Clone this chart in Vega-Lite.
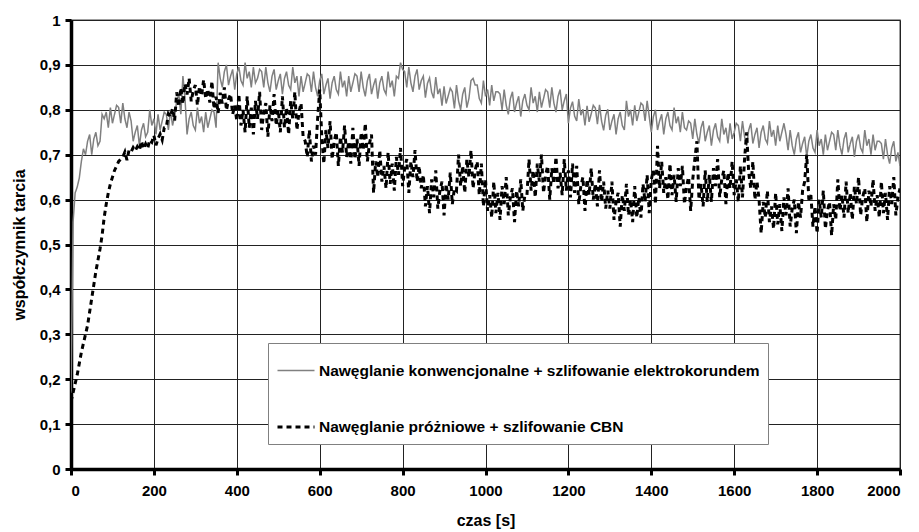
{
"$schema":"https://vega.github.io/schema/vega-lite/v6.json",
"width":829,"height":449,
"autosize":{"type":"none"},
"padding":{"left":71,"top":20,"right":19,"bottom":63},
"background":"white",
"config":{"view":{"stroke":"#808080","strokeWidth":1.5},"font":"Liberation Sans"},
"data":{"values":[
{"t":0,"g":0.17,"k":0.15},{"t":5,"g":0.55,"k":0.17},{"t":10,"g":0.615,"k":0.19},{"t":15,"g":0.628,"k":0.21},{"t":20,"g":0.648,"k":0.235},{"t":25,"g":0.685,"k":0.26},{"t":30,"g":0.713,"k":0.28},{"t":35,"g":0.7,"k":0.3},{"t":40,"g":0.73,"k":0.32},{"t":45,"g":0.745,"k":0.35},
{"t":50,"g":0.7,"k":0.38},{"t":55,"g":0.735,"k":0.41},{"t":60,"g":0.75,"k":0.44},{"t":65,"g":0.72,"k":0.465},{"t":70,"g":0.73,"k":0.49},{"t":75,"g":0.79,"k":0.52},{"t":80,"g":0.78,"k":0.56},{"t":85,"g":0.795,"k":0.59},{"t":90,"g":0.76,"k":0.615},{"t":95,"g":0.805,"k":0.635},
{"t":100,"g":0.77,"k":0.65},{"t":105,"g":0.79,"k":0.665},{"t":110,"g":0.81,"k":0.675},{"t":115,"g":0.805,"k":0.685},{"t":120,"g":0.77,"k":0.69},{"t":125,"g":0.815,"k":0.695},{"t":130,"g":0.78,"k":0.706},{"t":135,"g":0.76,"k":0.688},{"t":140,"g":0.795,"k":0.71},{"t":145,"g":0.775,"k":0.706},
{"t":150,"g":0.73,"k":0.716},{"t":155,"g":0.75,"k":0.709},{"t":160,"g":0.765,"k":0.718},{"t":165,"g":0.72,"k":0.71},{"t":170,"g":0.755,"k":0.73},{"t":175,"g":0.77,"k":0.713},{"t":180,"g":0.74,"k":0.724},{"t":185,"g":0.75,"k":0.714},{"t":190,"g":0.8,"k":0.733},{"t":195,"g":0.765,"k":0.728},
{"t":200,"g":0.78,"k":0.743},{"t":205,"g":0.745,"k":0.721},{"t":210,"g":0.79,"k":0.736},{"t":215,"g":0.755,"k":0.746},{"t":220,"g":0.775,"k":0.733},{"t":225,"g":0.795,"k":0.76},{"t":230,"g":0.79,"k":0.761},{"t":235,"g":0.755,"k":0.791},{"t":240,"g":0.8,"k":0.784},{"t":245,"g":0.765,"k":0.803},
{"t":250,"g":0.785,"k":0.776},{"t":255,"g":0.82,"k":0.839},{"t":260,"g":0.835,"k":0.807},{"t":265,"g":0.79,"k":0.849},{"t":270,"g":0.875,"k":0.813},{"t":275,"g":0.825,"k":0.858},{"t":280,"g":0.745,"k":0.834},{"t":285,"g":0.78,"k":0.87},{"t":290,"g":0.795,"k":0.819},{"t":295,"g":0.765,"k":0.843},
{"t":300,"g":0.755,"k":0.855},{"t":305,"g":0.805,"k":0.81},{"t":310,"g":0.77,"k":0.852},{"t":315,"g":0.785,"k":0.831},{"t":320,"g":0.75,"k":0.867},{"t":325,"g":0.795,"k":0.825},{"t":330,"g":0.76,"k":0.846},{"t":335,"g":0.78,"k":0.816},{"t":340,"g":0.8,"k":0.864},{"t":345,"g":0.795,"k":0.802},
{"t":350,"g":0.76,"k":0.829},{"t":355,"g":0.905,"k":0.793},{"t":360,"g":0.87,"k":0.838},{"t":365,"g":0.85,"k":0.814},{"t":370,"g":0.885,"k":0.85},{"t":375,"g":0.9,"k":0.799},{"t":380,"g":0.855,"k":0.823},{"t":385,"g":0.875,"k":0.835},{"t":390,"g":0.89,"k":0.79},{"t":395,"g":0.845,"k":0.81},
{"t":400,"g":0.88,"k":0.775},{"t":405,"g":0.895,"k":0.835},{"t":410,"g":0.865,"k":0.765},{"t":415,"g":0.855,"k":0.8},{"t":420,"g":0.905,"k":0.75},{"t":425,"g":0.87,"k":0.83},{"t":430,"g":0.885,"k":0.76},{"t":435,"g":0.85,"k":0.805},{"t":440,"g":0.895,"k":0.745},{"t":445,"g":0.86,"k":0.82},
{"t":450,"g":0.87,"k":0.78},{"t":455,"g":0.89,"k":0.84},{"t":460,"g":0.885,"k":0.755},{"t":465,"g":0.85,"k":0.795},{"t":470,"g":0.895,"k":0.815},{"t":475,"g":0.86,"k":0.74},{"t":480,"g":0.84,"k":0.81},{"t":485,"g":0.875,"k":0.775},{"t":490,"g":0.89,"k":0.835},{"t":495,"g":0.845,"k":0.765},
{"t":500,"g":0.865,"k":0.8},{"t":505,"g":0.88,"k":0.75},{"t":510,"g":0.835,"k":0.83},{"t":515,"g":0.87,"k":0.76},{"t":520,"g":0.885,"k":0.805},{"t":525,"g":0.855,"k":0.745},{"t":530,"g":0.845,"k":0.82},{"t":535,"g":0.895,"k":0.78},{"t":540,"g":0.86,"k":0.84},{"t":545,"g":0.875,"k":0.755},
{"t":550,"g":0.83,"k":0.795},{"t":555,"g":0.875,"k":0.815},{"t":560,"g":0.84,"k":0.74},{"t":565,"g":0.86,"k":0.73},{"t":570,"g":0.88,"k":0.695},{"t":575,"g":0.875,"k":0.755},{"t":580,"g":0.84,"k":0.685},{"t":585,"g":0.885,"k":0.72},{"t":590,"g":0.85,"k":0.7},{"t":595,"g":0.83,"k":0.78},
{"t":600,"g":0.865,"k":0.845},{"t":605,"g":0.88,"k":0.74},{"t":610,"g":0.835,"k":0.68},{"t":615,"g":0.855,"k":0.755},{"t":620,"g":0.87,"k":0.715},{"t":625,"g":0.825,"k":0.775},{"t":630,"g":0.86,"k":0.69},{"t":635,"g":0.875,"k":0.73},{"t":640,"g":0.845,"k":0.75},{"t":645,"g":0.835,"k":0.675},
{"t":650,"g":0.885,"k":0.74},{"t":655,"g":0.85,"k":0.705},{"t":660,"g":0.865,"k":0.765},{"t":665,"g":0.83,"k":0.695},{"t":670,"g":0.875,"k":0.73},{"t":675,"g":0.84,"k":0.68},{"t":680,"g":0.86,"k":0.76},{"t":685,"g":0.88,"k":0.69},{"t":690,"g":0.875,"k":0.735},{"t":695,"g":0.84,"k":0.675},
{"t":700,"g":0.885,"k":0.75},{"t":705,"g":0.85,"k":0.71},{"t":710,"g":0.83,"k":0.77},{"t":715,"g":0.865,"k":0.685},{"t":720,"g":0.88,"k":0.725},{"t":725,"g":0.835,"k":0.745},{"t":730,"g":0.855,"k":0.615},{"t":735,"g":0.87,"k":0.685},{"t":740,"g":0.825,"k":0.65},{"t":745,"g":0.86,"k":0.71},
{"t":750,"g":0.875,"k":0.64},{"t":755,"g":0.845,"k":0.675},{"t":760,"g":0.835,"k":0.625},{"t":765,"g":0.885,"k":0.705},{"t":770,"g":0.85,"k":0.635},{"t":775,"g":0.865,"k":0.68},{"t":780,"g":0.83,"k":0.62},{"t":785,"g":0.875,"k":0.695},{"t":790,"g":0.87,"k":0.655},{"t":795,"g":0.905,"k":0.715},
{"t":800,"g":0.89,"k":0.63},{"t":805,"g":0.885,"k":0.67},{"t":810,"g":0.85,"k":0.69},{"t":815,"g":0.895,"k":0.615},{"t":820,"g":0.86,"k":0.685},{"t":825,"g":0.84,"k":0.65},{"t":830,"g":0.875,"k":0.71},{"t":835,"g":0.89,"k":0.64},{"t":840,"g":0.845,"k":0.675},{"t":845,"g":0.865,"k":0.625},
{"t":850,"g":0.875,"k":0.655},{"t":855,"g":0.827,"k":0.585},{"t":860,"g":0.859,"k":0.63},{"t":865,"g":0.871,"k":0.57},{"t":870,"g":0.839,"k":0.645},{"t":875,"g":0.826,"k":0.605},{"t":880,"g":0.873,"k":0.665},{"t":885,"g":0.835,"k":0.58},{"t":890,"g":0.847,"k":0.62},{"t":895,"g":0.809,"k":0.64},
{"t":900,"g":0.852,"k":0.565},{"t":905,"g":0.814,"k":0.635},{"t":910,"g":0.831,"k":0.6},{"t":915,"g":0.848,"k":0.66},{"t":920,"g":0.84,"k":0.59},{"t":925,"g":0.803,"k":0.625},{"t":930,"g":0.855,"k":0.62},{"t":935,"g":0.82,"k":0.7},{"t":940,"g":0.8,"k":0.63},{"t":945,"g":0.835,"k":0.675},
{"t":950,"g":0.85,"k":0.615},{"t":955,"g":0.805,"k":0.69},{"t":960,"g":0.825,"k":0.65},{"t":965,"g":0.865,"k":0.71},{"t":970,"g":0.87,"k":0.625},{"t":975,"g":0.855,"k":0.665},{"t":980,"g":0.855,"k":0.685},{"t":985,"g":0.825,"k":0.61},{"t":990,"g":0.815,"k":0.68},{"t":995,"g":0.865,"k":0.585},
{"t":1000,"g":0.83,"k":0.645},{"t":1005,"g":0.845,"k":0.575},{"t":1010,"g":0.81,"k":0.61},{"t":1015,"g":0.855,"k":0.56},{"t":1020,"g":0.82,"k":0.64},{"t":1025,"g":0.84,"k":0.57},{"t":1030,"g":0.84,"k":0.615},{"t":1035,"g":0.835,"k":0.555},{"t":1040,"g":0.8,"k":0.63},{"t":1045,"g":0.845,"k":0.59},
{"t":1050,"g":0.81,"k":0.65},{"t":1055,"g":0.79,"k":0.565},{"t":1060,"g":0.825,"k":0.605},{"t":1065,"g":0.84,"k":0.625},{"t":1070,"g":0.795,"k":0.55},{"t":1075,"g":0.815,"k":0.62},{"t":1080,"g":0.83,"k":0.585},{"t":1085,"g":0.785,"k":0.645},{"t":1090,"g":0.82,"k":0.575},{"t":1095,"g":0.835,"k":0.61},
{"t":1100,"g":0.81,"k":0.61},{"t":1105,"g":0.8,"k":0.69},{"t":1110,"g":0.85,"k":0.62},{"t":1115,"g":0.815,"k":0.665},{"t":1120,"g":0.83,"k":0.605},{"t":1125,"g":0.795,"k":0.68},{"t":1130,"g":0.84,"k":0.64},{"t":1135,"g":0.805,"k":0.7},{"t":1140,"g":0.825,"k":0.615},{"t":1145,"g":0.845,"k":0.655},
{"t":1150,"g":0.84,"k":0.675},{"t":1155,"g":0.805,"k":0.6},{"t":1160,"g":0.85,"k":0.67},{"t":1165,"g":0.815,"k":0.635},{"t":1170,"g":0.795,"k":0.695},{"t":1175,"g":0.83,"k":0.625},{"t":1180,"g":0.845,"k":0.66},{"t":1185,"g":0.8,"k":0.61},{"t":1190,"g":0.82,"k":0.69},{"t":1195,"g":0.835,"k":0.62},
{"t":1200,"g":0.77,"k":0.665},{"t":1205,"g":0.804,"k":0.605},{"t":1210,"g":0.818,"k":0.68},{"t":1215,"g":0.786,"k":0.615},{"t":1220,"g":0.775,"k":0.675},{"t":1225,"g":0.824,"k":0.59},{"t":1230,"g":0.788,"k":0.63},{"t":1235,"g":0.801,"k":0.65},{"t":1240,"g":0.765,"k":0.575},{"t":1245,"g":0.809,"k":0.645},
{"t":1250,"g":0.773,"k":0.61},{"t":1255,"g":0.791,"k":0.67},{"t":1260,"g":0.81,"k":0.6},{"t":1265,"g":0.804,"k":0.635},{"t":1270,"g":0.768,"k":0.585},{"t":1275,"g":0.811,"k":0.665},{"t":1280,"g":0.775,"k":0.595},{"t":1285,"g":0.754,"k":0.64},{"t":1290,"g":0.788,"k":0.58},{"t":1295,"g":0.801,"k":0.62},
{"t":1300,"g":0.755,"k":0.58},{"t":1305,"g":0.775,"k":0.64},{"t":1310,"g":0.79,"k":0.555},{"t":1315,"g":0.745,"k":0.595},{"t":1320,"g":0.78,"k":0.615},{"t":1325,"g":0.795,"k":0.54},{"t":1330,"g":0.765,"k":0.61},{"t":1335,"g":0.755,"k":0.575},{"t":1340,"g":0.82,"k":0.635},{"t":1345,"g":0.785,"k":0.565},
{"t":1350,"g":0.8,"k":0.6},{"t":1355,"g":0.765,"k":0.55},{"t":1360,"g":0.81,"k":0.63},{"t":1365,"g":0.775,"k":0.56},{"t":1370,"g":0.795,"k":0.605},{"t":1375,"g":0.815,"k":0.56},{"t":1380,"g":0.81,"k":0.635},{"t":1385,"g":0.775,"k":0.595},{"t":1390,"g":0.82,"k":0.655},{"t":1395,"g":0.785,"k":0.57},
{"t":1400,"g":0.75,"k":0.645},{"t":1405,"g":0.785,"k":0.665},{"t":1410,"g":0.8,"k":0.59},{"t":1415,"g":0.755,"k":0.72},{"t":1420,"g":0.775,"k":0.625},{"t":1425,"g":0.79,"k":0.685},{"t":1430,"g":0.745,"k":0.615},{"t":1435,"g":0.78,"k":0.65},{"t":1440,"g":0.795,"k":0.6},{"t":1445,"g":0.765,"k":0.68},
{"t":1450,"g":0.755,"k":0.61},{"t":1455,"g":0.805,"k":0.655},{"t":1460,"g":0.77,"k":0.595},{"t":1465,"g":0.785,"k":0.67},{"t":1470,"g":0.75,"k":0.63},{"t":1475,"g":0.795,"k":0.675},{"t":1480,"g":0.76,"k":0.59},{"t":1485,"g":0.755,"k":0.63},{"t":1490,"g":0.775,"k":0.65},{"t":1495,"g":0.77,"k":0.575},
{"t":1500,"g":0.735,"k":0.645},{"t":1505,"g":0.78,"k":0.69},{"t":1510,"g":0.745,"k":0.73},{"t":1515,"g":0.725,"k":0.6},{"t":1520,"g":0.76,"k":0.635},{"t":1525,"g":0.775,"k":0.585},{"t":1530,"g":0.73,"k":0.665},{"t":1535,"g":0.75,"k":0.595},{"t":1540,"g":0.765,"k":0.655},{"t":1545,"g":0.72,"k":0.595},
{"t":1550,"g":0.755,"k":0.67},{"t":1555,"g":0.77,"k":0.63},{"t":1560,"g":0.74,"k":0.69},{"t":1565,"g":0.73,"k":0.605},{"t":1570,"g":0.78,"k":0.645},{"t":1575,"g":0.745,"k":0.665},{"t":1580,"g":0.76,"k":0.59},{"t":1585,"g":0.725,"k":0.66},{"t":1590,"g":0.77,"k":0.625},{"t":1595,"g":0.735,"k":0.685},
{"t":1600,"g":0.75,"k":0.61},{"t":1605,"g":0.77,"k":0.645},{"t":1610,"g":0.765,"k":0.595},{"t":1615,"g":0.73,"k":0.675},{"t":1620,"g":0.775,"k":0.605},{"t":1625,"g":0.74,"k":0.69},{"t":1630,"g":0.72,"k":0.75},{"t":1635,"g":0.755,"k":0.66},{"t":1640,"g":0.77,"k":0.625},{"t":1645,"g":0.725,"k":0.685},
{"t":1650,"g":0.745,"k":0.6},{"t":1655,"g":0.76,"k":0.64},{"t":1660,"g":0.715,"k":0.6},{"t":1665,"g":0.75,"k":0.525},{"t":1670,"g":0.765,"k":0.595},{"t":1675,"g":0.735,"k":0.56},{"t":1680,"g":0.725,"k":0.62},{"t":1685,"g":0.775,"k":0.55},{"t":1690,"g":0.74,"k":0.585},{"t":1695,"g":0.755,"k":0.535},
{"t":1700,"g":0.72,"k":0.615},{"t":1705,"g":0.765,"k":0.545},{"t":1710,"g":0.73,"k":0.59},{"t":1715,"g":0.75,"k":0.53},{"t":1720,"g":0.77,"k":0.605},{"t":1725,"g":0.745,"k":0.565},{"t":1730,"g":0.71,"k":0.625},{"t":1735,"g":0.755,"k":0.54},{"t":1740,"g":0.72,"k":0.58},{"t":1745,"g":0.7,"k":0.6},
{"t":1750,"g":0.735,"k":0.525},{"t":1755,"g":0.75,"k":0.595},{"t":1760,"g":0.705,"k":0.56},{"t":1765,"g":0.725,"k":0.62},{"t":1770,"g":0.74,"k":0.64},{"t":1775,"g":0.695,"k":0.7},{"t":1780,"g":0.73,"k":0.6},{"t":1785,"g":0.745,"k":0.61},{"t":1790,"g":0.715,"k":0.54},{"t":1795,"g":0.705,"k":0.585},
{"t":1800,"g":0.755,"k":0.525},{"t":1805,"g":0.72,"k":0.6},{"t":1810,"g":0.735,"k":0.56},{"t":1815,"g":0.7,"k":0.62},{"t":1820,"g":0.745,"k":0.535},{"t":1825,"g":0.71,"k":0.575},{"t":1830,"g":0.73,"k":0.595},{"t":1835,"g":0.75,"k":0.52},{"t":1840,"g":0.745,"k":0.59},{"t":1845,"g":0.71,"k":0.555},
{"t":1850,"g":0.755,"k":0.645},{"t":1855,"g":0.72,"k":0.575},{"t":1860,"g":0.7,"k":0.61},{"t":1865,"g":0.735,"k":0.56},{"t":1870,"g":0.75,"k":0.64},{"t":1875,"g":0.705,"k":0.57},{"t":1880,"g":0.725,"k":0.615},{"t":1885,"g":0.74,"k":0.555},{"t":1890,"g":0.695,"k":0.63},{"t":1895,"g":0.73,"k":0.59},
{"t":1900,"g":0.745,"k":0.65},{"t":1905,"g":0.715,"k":0.565},{"t":1910,"g":0.705,"k":0.605},{"t":1915,"g":0.755,"k":0.625},{"t":1920,"g":0.72,"k":0.55},{"t":1925,"g":0.735,"k":0.62},{"t":1930,"g":0.7,"k":0.585},{"t":1935,"g":0.745,"k":0.645},{"t":1940,"g":0.71,"k":0.575},{"t":1945,"g":0.73,"k":0.61},
{"t":1950,"g":0.73,"k":0.56},{"t":1955,"g":0.725,"k":0.64},{"t":1960,"g":0.69,"k":0.57},{"t":1965,"g":0.735,"k":0.615},{"t":1970,"g":0.7,"k":0.555},{"t":1975,"g":0.68,"k":0.63},{"t":1980,"g":0.715,"k":0.59},{"t":1985,"g":0.73,"k":0.65},{"t":1990,"g":0.685,"k":0.565},{"t":1995,"g":0.705,"k":0.605},
{"t":2000,"g":0.675,"k":0.625}
]},
"transform":[{"fold":["g","k"],"as":["s","v"]}],
"mark":{"type":"line","clip":true},
"encoding":{
"x":{"field":"t","type":"quantitative","scale":{"domain":[0,2000],"nice":false},
"axis":{"values":[0,200,400,600,800,1000,1200,1400,1600,1800,2000],"format":"d","grid":true,"gridColor":"#222222","gridWidth":1,"domainColor":"#000000","domainWidth":3.5,"tickColor":"#000000","tickWidth":3,"tickSize":6,"labelFontSize":15,"labelFontWeight":"bold","labelColor":"#000000","labelPadding":8,"title":"czas [s]","titleFontSize":16,"titleFontWeight":"bold","titleColor":"#000000","titlePadding":14}},
"y":{"field":"v","type":"quantitative","scale":{"domain":[0,1],"nice":false},
"axis":{"values":[0,0.1,0.2,0.3,0.4,0.5,0.6,0.7,0.8,0.9,1],"grid":true,"gridColor":"#222222","gridWidth":1,"domainColor":"#000000","domainWidth":3.5,"tickColor":"#000000","tickWidth":3,"tickSize":6,"labelFontSize":15,"labelFontWeight":"bold","labelColor":"#000000","labelPadding":5,
"labelExpr":"datum.value == 0 ? '0' : datum.value == 1 ? '1' : replace(format(datum.value, '.1f'), '.', ',')",
"title":"współczynnik tarcia","titleFontSize":16,"titleFontWeight":"bold","titleColor":"#000000","titlePadding":12}},
"color":{"field":"s","type":"nominal","scale":{"domain":["g","k"],"range":["#808080","#000000"]},
"legend":{"title":null,"orient":"none","legendX":197,"legendY":323,"direction":"vertical","padding":8,"strokeColor":"#808080","fillColor":"#ffffff","symbolType":"stroke","symbolSize":1369,"symbolStrokeWidth":2.5,"rowPadding":28,"labelFontSize":15.5,"labelFontWeight":"bold","labelColor":"#000000","labelLimit":0,"labelOffset":3,
"labelExpr":"datum.value == 'g' ? 'Nawęglanie konwencjonalne + szlifowanie elektrokorundem' : 'Nawęglanie próżniowe + szlifowanie CBN'"}},
"strokeDash":{"field":"s","type":"nominal","scale":{"domain":["g","k"],"range":[[1,0],[5,4]]}},
"strokeWidth":{"field":"s","type":"ordinal","scale":{"domain":["g","k"],"range":[1.5,3]},"legend":null}
}
}
